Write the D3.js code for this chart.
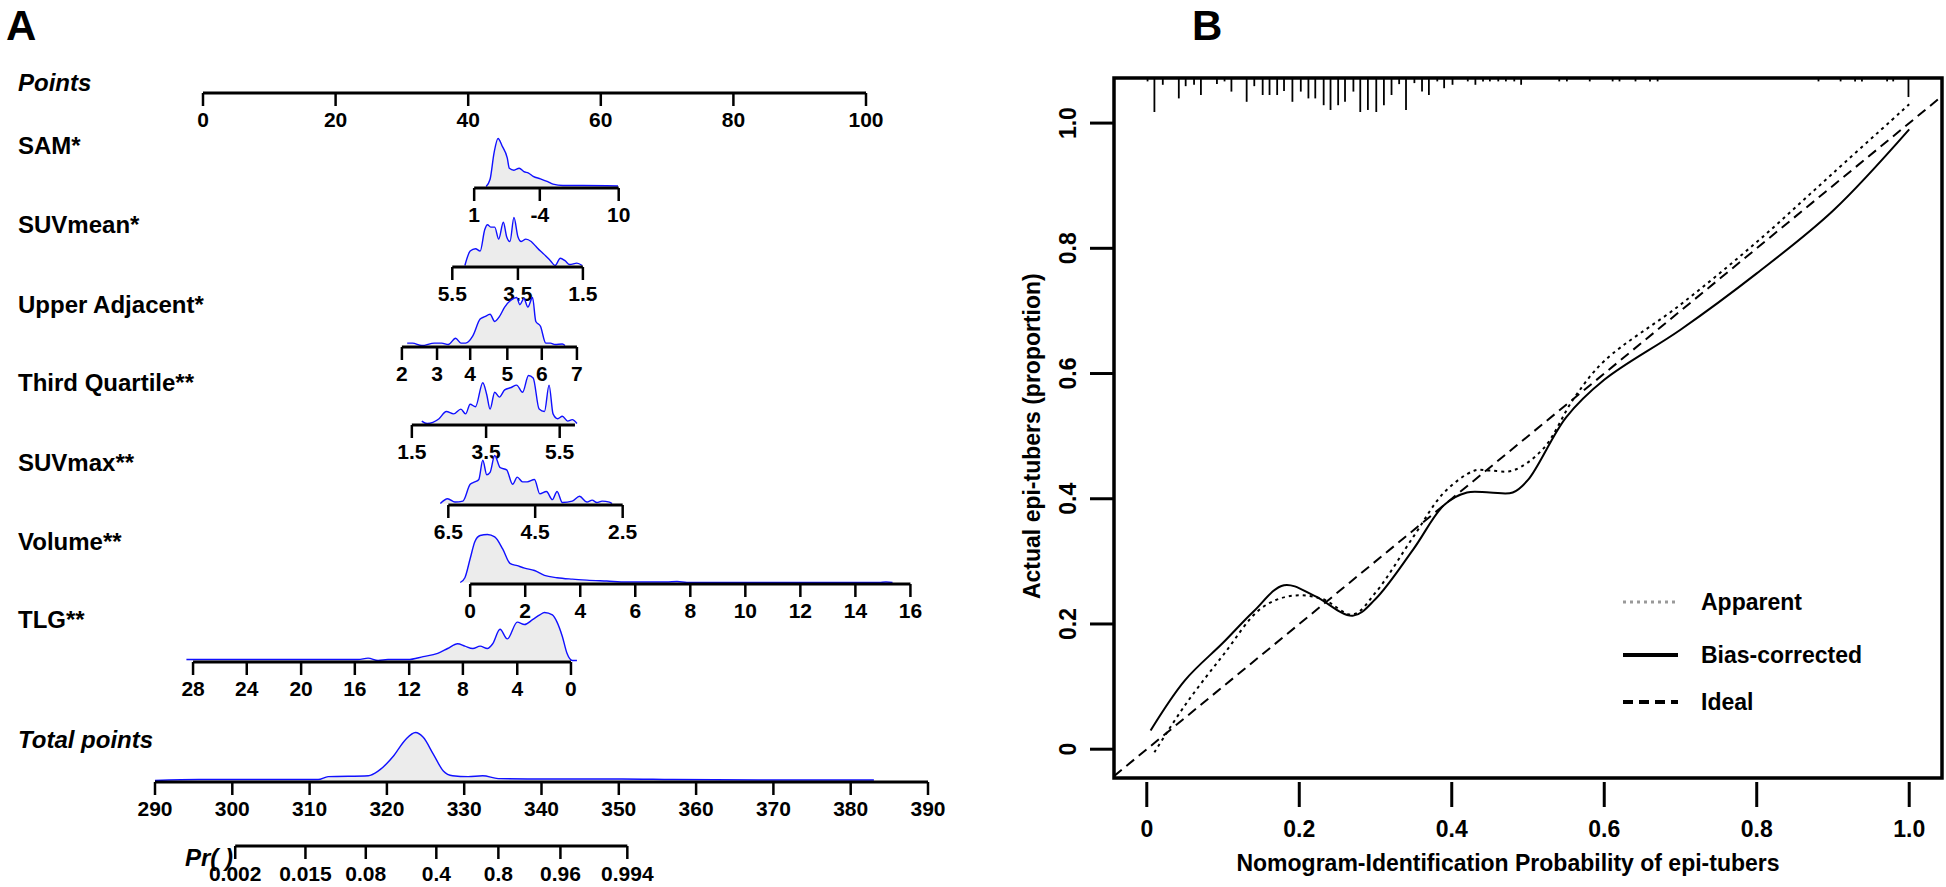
<!DOCTYPE html>
<html><head><meta charset="utf-8">
<script src="https://cdn.jsdelivr.net/npm/d3@7"></script>
<style>body{margin:0;background:#fff}text{font-family:"Liberation Sans",Arial,sans-serif;font-weight:bold}</style>
</head><body><svg id="c" width="1946" height="887"></svg>
<script>
// ---------- Panel A data (positions expressed in nomogram "points") ----------
const pointsTicks = [0,20,40,60,80,100];
const varNames = ["SAM*","SUVmean*","Upper Adjacent*","Third Quartile**","SUVmax**","Volume**","TLG**"];
const varTickLabels = [
  ["1","-4","10"],
  ["5.5","3.5","1.5"],
  ["2","3","4","5","6","7"],
  ["1.5","3.5","5.5"],
  ["6.5","4.5","2.5"],
  ["0","2","4","6","8","10","12","14","16"],
  ["28","24","20","16","12","8","4","0"]
];
const varTickPoints = [
  [40.9,50.8,62.7],
  [37.6,47.5,57.3],
  [30.0,35.3,40.3,45.9,51.1,56.4],
  [31.5,42.7,53.8],
  [37.0,50.1,63.3],
  [40.3,48.6,56.9,65.2,73.5,81.8,90.1,98.4,106.7],
  [-1.5,6.6,14.8,22.9,31.1,39.2,47.4,55.5]
];
const varAxisEnd = [62.7,57.3,56.4,56.1,63.3,106.7,55.5];
const densSAM = [[42.7,0],[43.3,0.15],[43.9,0.7],[44.5,1],[45.1,0.85],[45.9,0.59],[46.2,0.38],[46.9,0.34],[47.7,0.38],[48.4,0.31],[49.1,0.28],[49.8,0.21],[50.9,0.16],[52.0,0.1],[52.8,0.05],[54.3,0.02],[57.2,0.02],[62.6,0.01]];
const densSUVmean = [[39.5,0],[40.3,0.3],[41.1,0.35],[41.8,0.3],[42.5,0.75],[42.9,0.85],[43.4,0.8],[44.0,0.8],[44.6,0.55],[45.3,0.9],[45.8,0.6],[46.3,0.5],[46.9,1.0],[47.5,0.6],[48.0,0.5],[48.7,0.55],[49.5,0.5],[50.2,0.4],[50.9,0.3],[51.7,0.2],[52.4,0.1],[53.1,0.0],[53.9,0.15],[54.6,0.1],[55.3,0.02],[56.4,0.05],[57.2,0]];
const densUA = [[30.8,0.05],[31.6,0.05],[33.0,0],[34.9,0.05],[36.0,0.05],[37.0,0.02],[38.1,0.15],[38.9,0.05],[39.6,0.05],[40.7,0.2],[41.8,0.55],[42.5,0.6],[43.3,0.65],[44.0,0.5],[44.7,0.6],[45.5,0.8],[46.5,0.95],[47.3,1.0],[47.8,0.85],[48.4,0.98],[49.0,0.8],[49.7,1.0],[50.2,0.5],[50.9,0.4],[51.7,0.05],[52.4,0.05],[53.1,0.02],[54.2,0.03],[54.6,0]];
const densTQ = [[33.0,0.05],[33.8,0],[35.6,0.1],[36.7,0.25],[37.8,0.2],[38.9,0.3],[39.6,0.2],[40.3,0.4],[41.1,0.35],[42.2,0.85],[42.8,0.6],[43.3,0.3],[44.0,0.65],[44.7,0.55],[45.5,0.7],[46.5,0.75],[47.3,0.8],[48.2,0.65],[49.1,1.0],[49.8,0.95],[50.7,0.3],[51.5,0.25],[52.2,0.8],[52.8,0.2],[53.5,0.1],[54.2,0.15],[55.0,0.05],[55.7,0.08],[56.4,0]];
const densSUVmax = [[35.8,0],[36.9,0.1],[38.0,0.03],[39.2,0.05],[40.3,0.4],[41.0,0.45],[41.6,0.5],[42.2,0.9],[42.8,0.6],[43.3,0.65],[44.0,1.0],[44.8,0.75],[45.8,0.7],[46.7,0.4],[47.4,0.55],[48.2,0.45],[48.9,0.45],[50.0,0.5],[50.8,0.2],[51.8,0.25],[52.7,0.08],[53.4,0.25],[54.2,0.02],[55.7,0.05],[56.8,0.15],[57.9,0.03],[58.7,0.07],[59.4,0.02],[60.2,0.05],[61.3,0.03],[61.7,0]];
const densVolume = [[38.8,0],[39.5,0.1],[40.3,0.5],[41.0,0.85],[41.8,0.98],[42.9,1.0],[44.0,0.95],[45.2,0.7],[46.3,0.4],[47.4,0.35],[48.5,0.3],[50.0,0.25],[51.5,0.15],[53.4,0.1],[55.7,0.07],[57.9,0.05],[60.9,0.03],[63.9,0.01],[69.9,0.01],[71.5,0.02],[73.0,0],[102.0,0],[103.0,0.01],[104.0,0]];
const densTLG = [[-2.5,0.02],[-0.6,0.02],[20.4,0.02],[23.4,0.02],[24.9,0.05],[26.4,0],[27.9,0.02],[30.9,0.02],[33.2,0.08],[35.4,0.15],[36.9,0.25],[38.4,0.35],[39.5,0.3],[40.7,0.25],[41.8,0.3],[42.9,0.25],[43.7,0.35],[44.8,0.65],[45.9,0.45],[47.4,0.8],[48.5,0.75],[49.7,0.85],[50.8,0.95],[51.5,1.0],[52.7,0.95],[53.4,0.8],[54.2,0.5],[54.9,0.15],[55.7,0],[56.4,0]];
const varDensities = [densSAM,densSUVmean,densUA,densTQ,densSUVmax,densVolume,densTLG];
const totalTicks = [290,300,310,320,330,340,350,360,370,380,390];
const densTotal = [[290,0],[295.7,0.02],[302.2,0.02],[311.1,0.02],[312.4,0.08],[317.6,0.1],[318.9,0.2],[320.8,0.5],[322.4,0.85],[323.7,1.0],[324.7,0.9],[326.0,0.55],[327.3,0.2],[328.5,0.1],[330.5,0.08],[332.4,0.1],[334.4,0.04],[340.7,0.03],[350.4,0.03],[356.9,0.02],[372.9,0.01],[383,0.01]];
const prTicks = [0.002,0.015,0.08,0.4,0.8,0.96,0.994];
const prTickLabels = ["0.002","0.015","0.08","0.4","0.8","0.96","0.994"];
const lpIntercept = 328.21, lpSlope = 4.48; // total points = intercept + slope*logit(p)

// ---------- Panel B data ----------
const xTicksB = [0,0.2,0.4,0.6,0.8,1.0];
const xTickLabelsB = ["0","0.2","0.4","0.6","0.8","1.0"];
const yTicksB = [0,0.2,0.4,0.6,0.8,1.0];
const yTickLabelsB = ["0","0.2","0.4","0.6","0.8","1.0"];
const apparentX = [0.01,0.05,0.1,0.15,0.19,0.23,0.27,0.3,0.35,0.39,0.43,0.45,0.48,0.52,0.56,0.6,0.7,0.8,0.9,1.0];
const apparentY = [-0.005,0.07,0.15,0.225,0.245,0.24,0.215,0.25,0.34,0.41,0.445,0.445,0.445,0.48,0.56,0.62,0.71,0.81,0.92,1.03];
const biasX = [0.005,0.05,0.1,0.14,0.18,0.22,0.27,0.3,0.35,0.39,0.42,0.45,0.48,0.5,0.55,0.6,0.7,0.8,0.9,1.0];
const biasY = [0.03,0.11,0.17,0.22,0.262,0.245,0.213,0.24,0.32,0.39,0.41,0.41,0.41,0.43,0.53,0.59,0.67,0.76,0.86,0.99];
const rugP = [.001,.010,.021,.042,.051,.062,.071,.092,.102,.111,.131,.141,.152,.161,.171,.180,.191,.202,.212,.221,.232,.241,.251,.260,.271,.280,.290,.301,.311,.321,.331,.340,.351,.361,.370,.381,.390,.401,.421,.431,.441,.450,.461,.471,.482,.491,.541,.551,.581,.611,.620,.641,.660,.670,.881,.910,.929,.938,.971,.979,.999];
const rugN = [1,10,2,6,2.4,2,5,1.8,1,4,7,2.4,5,5,5,3.8,7,4,6,6,8,9.4,8,7,4,10,9.4,10,8,5,1.8,9.4,1.5,4,5,1,3,2,1,2,1,1,1,1,1,2,1,1,1,1,1,1,1,1,1,1,1,1,1,1,5.6];
const legendNames = ["Apparent","Bias-corrected","Ideal"];

// ---------- Drawing ----------
const svg = d3.select("#c");
const ptX = d3.scaleLinear([0,100],[203,866]);
const densH = d3.scaleLinear([0,1],[0,48]);
const aFont = 24, tickFont = 21;

svg.append("text").attr("x",6).attr("y",40).attr("font-size",42).text("A");
svg.append("text").attr("x",1192).attr("y",40).attr("font-size",42).text("B");

function hAxis(scale, y, ticks, labels, x0, x1){
  svg.append("line").attr("x1",x0).attr("x2",x1).attr("y1",y).attr("y2",y).attr("stroke","#000").attr("stroke-width",3);
  ticks.forEach((t,i)=>{
    const x = scale(t);
    svg.append("line").attr("x1",x).attr("x2",x).attr("y1",y).attr("y2",y+13).attr("stroke","#000").attr("stroke-width",2.5);
    svg.append("text").attr("x",x).attr("y",y+34).attr("text-anchor","middle").attr("font-size",tickFont).text(labels[i]);
  });
}
function density(scale, y, pts){
  const area = d3.area().x(d=>scale(d[0])).y0(y-1.5).y1(d=>y-1.5-densH(d[1])).curve(d3.curveMonotoneX);
  const line = d3.line().x(d=>scale(d[0])).y(d=>y-1.5-densH(d[1])).curve(d3.curveMonotoneX);
  svg.append("path").attr("d",area(pts)).attr("fill","#ececec");
  svg.append("path").attr("d",line(pts)).attr("fill","none").attr("stroke","#1010ff").attr("stroke-width",1.4);
}

svg.append("text").attr("x",18).attr("y",91).attr("font-size",aFont).attr("font-style","italic").text("Points");
hAxis(ptX, 93, pointsTicks, pointsTicks.map(String), ptX(0), ptX(100));

const rowAxisY = [188,267,347,425,505,584,662];
varNames.forEach((nm,i)=>{
  const ay = rowAxisY[i];
  svg.append("text").attr("x",18).attr("y",ay-34).attr("font-size",aFont).text(nm);
  density(ptX, ay, varDensities[i]);
  const tp = varTickPoints[i];
  hAxis(ptX, ay, tp, varTickLabels[i], ptX(d3.min(tp)), ptX(varAxisEnd[i]));
});

const totX = d3.scaleLinear([290,390],[155,928]);
svg.append("text").attr("x",18).attr("y",748).attr("font-size",aFont).attr("font-style","italic").text("Total points");
density(totX, 782, densTotal);
hAxis(totX, 782, totalTicks, totalTicks.map(String), totX(290), totX(390));

const prX = p => totX(lpIntercept + lpSlope*Math.log(p/(1-p)));
svg.append("text").attr("x",233).attr("y",866).attr("text-anchor","end").attr("font-size",aFont).attr("font-style","italic").text("Pr(  )");
svg.append("line").attr("x1",prX(prTicks[0])).attr("x2",prX(prTicks[prTicks.length-1])).attr("y1",846).attr("y2",846).attr("stroke","#000").attr("stroke-width",3);
prTicks.forEach((p,i)=>{
  const x = prX(p);
  svg.append("line").attr("x1",x).attr("x2",x).attr("y1",846).attr("y2",859).attr("stroke","#000").attr("stroke-width",2.5);
  svg.append("text").attr("x",x).attr("y",881).attr("text-anchor","middle").attr("font-size",tickFont).text(prTickLabels[i]);
});

// ---------- Panel B ----------
const bx = d3.scaleLinear([-0.043,1.043],[1114,1942]);
const by = d3.scaleLinear([-0.046,1.072],[778,78]);
const bFont = 23;
svg.append("defs").append("clipPath").attr("id","clipB").append("rect")
  .attr("x",bx(-0.043)).attr("y",by(1.072)).attr("width",bx(1.043)-bx(-0.043)).attr("height",by(-0.046)-by(1.072));
const g = svg.append("g").attr("clip-path","url(#clipB)");
const rugLen = d3.scaleLinear([0,10],[0,34]);
rugP.forEach((p,i)=>{
  g.append("line").attr("x1",bx(p)).attr("x2",bx(p)).attr("y1",by(1.072)).attr("y2",by(1.072)+rugLen(rugN[i])).attr("stroke","#000").attr("stroke-width",1.8);
});
g.append("line").attr("x1",bx(-0.043)).attr("y1",by(-0.043)).attr("x2",bx(1.043)).attr("y2",by(1.043))
  .attr("stroke","#000").attr("stroke-width",2).attr("stroke-dasharray","10,6");
const ln = d3.line().x(d=>bx(d[0])).y(d=>by(d[1])).curve(d3.curveCatmullRom);
g.append("path").attr("d",ln(apparentX.map((x,i)=>[x,apparentY[i]]))).attr("fill","none").attr("stroke","#000").attr("stroke-width",2).attr("stroke-dasharray","3,4");
g.append("path").attr("d",ln(biasX.map((x,i)=>[x,biasY[i]]))).attr("fill","none").attr("stroke","#000").attr("stroke-width",2);
svg.append("rect").attr("x",bx(-0.043)).attr("y",by(1.072)).attr("width",bx(1.043)-bx(-0.043)).attr("height",by(-0.046)-by(1.072)).attr("fill","none").attr("stroke","#000").attr("stroke-width",3.5);
xTicksB.forEach((t,i)=>{
  svg.append("line").attr("x1",bx(t)).attr("x2",bx(t)).attr("y1",782).attr("y2",807).attr("stroke","#000").attr("stroke-width",3);
  svg.append("text").attr("x",bx(t)).attr("y",837).attr("text-anchor","middle").attr("font-size",bFont).text(xTickLabelsB[i]);
});
svg.append("text").attr("x",1508).attr("y",871).attr("text-anchor","middle").attr("font-size",bFont).text("Nomogram-Identification Probability of epi-tubers");
yTicksB.forEach((t,i)=>{
  svg.append("line").attr("x1",1090).attr("x2",1114).attr("y1",by(t)).attr("y2",by(t)).attr("stroke","#000").attr("stroke-width",3);
  svg.append("text").attr("transform",`translate(1076,${by(t)}) rotate(-90)`).attr("text-anchor","middle").attr("font-size",bFont).text(yTickLabelsB[i]);
});
svg.append("text").attr("transform",`translate(1040,${by(0.5)}) rotate(-90)`).attr("text-anchor","middle").attr("font-size",bFont).text("Actual epi-tubers (proportion)");
const legY = [602,655,702];
const legStyle = [{c:"#999",d:"3,4",w:3},{c:"#000",d:null,w:4},{c:"#000",d:"10,6",w:4}];
legendNames.forEach((nm,i)=>{
  const l = svg.append("line").attr("x1",1623).attr("x2",1678).attr("y1",legY[i]).attr("y2",legY[i]).attr("stroke",legStyle[i].c).attr("stroke-width",legStyle[i].w);
  if(legStyle[i].d) l.attr("stroke-dasharray",legStyle[i].d);
  svg.append("text").attr("x",1701).attr("y",legY[i]+8).attr("font-size",bFont).text(nm);
});
</script></body></html>
